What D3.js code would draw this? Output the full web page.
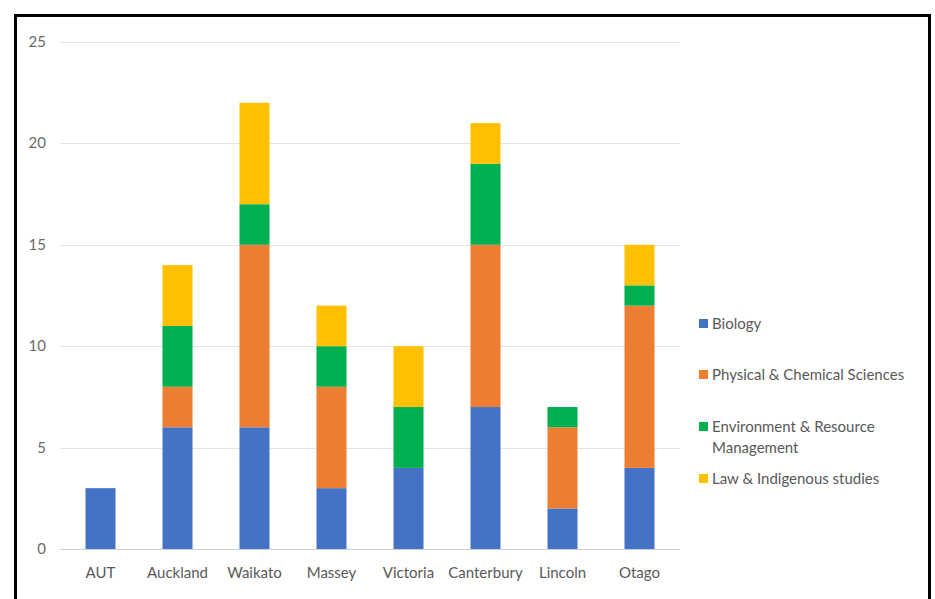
<!DOCTYPE html>
<html>
<head>
<meta charset="utf-8">
<script src="https://cdn.jsdelivr.net/npm/d3@7"></script>
<style>
  body { margin: 0; background: #fff; }
  text { font-family: Lato, "Open Sans", sans-serif; }
</style>
</head>
<body>
<script>
// universities and subject counts
const universities = ["AUT", "Auckland", "Waikato", "Massey", "Victoria", "Canterbury", "Lincoln", "Otago"];
const biology   = [3, 6, 6, 3, 4, 7, 2, 4];
const physChem  = [0, 2, 9, 5, 0, 8, 4, 8];
const envRes    = [0, 3, 2, 2, 3, 4, 1, 1];
const lawIndig  = [0, 3, 5, 2, 3, 2, 0, 2];
const seriesNames = ["Biology", "Physical & Chemical Sciences", "Environment & Resource Management", "Law & Indigenous studies"];
const colors = ["#4472C4", "#ED7D31", "#00B050", "#FFC000"];
const yTicks = [0, 5, 10, 15, 20, 25];

const width = 935, height = 599;

const svg = d3.select("body").append("svg")
    .attr("width", width)
    .attr("height", height);

svg.append("rect")
    .attr("x", 15.5).attr("y", 15.5)
    .attr("width", 914).attr("height", 600)
    .attr("fill", "#fff")
    .attr("stroke", "#000")
    .attr("stroke-width", 3);

const rows = universities.map((u, i) => ({
  uni: u, s0: biology[i], s1: physChem[i], s2: envRes[i], s3: lawIndig[i]
}));
const stack = d3.stack().keys(["s0", "s1", "s2", "s3"])(rows);

const x = d3.scaleBand().domain(universities).range([62, 678]).paddingInner(0.61).paddingOuter(0.305);
const y = d3.scaleLinear().domain([0, 25]).range([549, 42]);

// gridlines
svg.append("g")
  .selectAll("line")
  .data(yTicks)
  .join("line")
    .attr("x1", 60).attr("x2", 680)
    .attr("y1", d => Math.round(y(d)) + 0.5)
    .attr("y2", d => Math.round(y(d)) + 0.5)
    .attr("stroke", d => d === 0 ? "#d0d0d0" : "#e4e4e4")
    .attr("stroke-width", 1);

// y labels
svg.append("g")
  .selectAll("text")
  .data(yTicks)
  .join("text")
    .attr("x", 46)
    .attr("y", d => y(d) + 5)
    .attr("text-anchor", "end")
    .style("font-size", "15px")
    .style("fill", "#6a6a6a")
    .text(d => d);

// bars
svg.append("g")
  .selectAll("g")
  .data(stack)
  .join("g")
    .attr("fill", (d, i) => colors[i])
  .selectAll("rect")
  .data(d => d)
  .join("rect")
    .attr("x", d => x(d.data.uni))
    .attr("y", d => y(d[1]))
    .attr("width", x.bandwidth())
    .attr("height", d => y(d[0]) - y(d[1]));

// x labels
svg.append("g")
  .selectAll("text")
  .data(universities)
  .join("text")
    .attr("x", d => x(d) + x.bandwidth() / 2)
    .attr("y", 578)
    .attr("text-anchor", "middle")
    .style("font-size", "15px")
    .style("fill", "#595959")
    .text(d => d);

// legend
const legendY = [324, 375, 427, 479];
const legend = svg.append("g")
  .selectAll("g")
  .data(seriesNames)
  .join("g")
    .attr("transform", (d, i) => `translate(699,${legendY[i]})`);

legend.append("rect")
    .attr("x", 0).attr("y", -5)
    .attr("width", 9).attr("height", 9)
    .attr("fill", (d, i) => colors[i]);

legend.append("text")
    .attr("x", 13)
    .attr("y", 5)
    .style("font-size", "15px")
    .style("fill", "#595959")
    .each(function(d) {
      const t = d3.select(this);
      if (d.startsWith("Environment")) {
        t.append("tspan").attr("x", 13).text("Environment & Resource");
        t.append("tspan").attr("x", 13).attr("dy", 21).text("Management");
      } else {
        t.text(d);
      }
    });
</script>
</body>
</html>
